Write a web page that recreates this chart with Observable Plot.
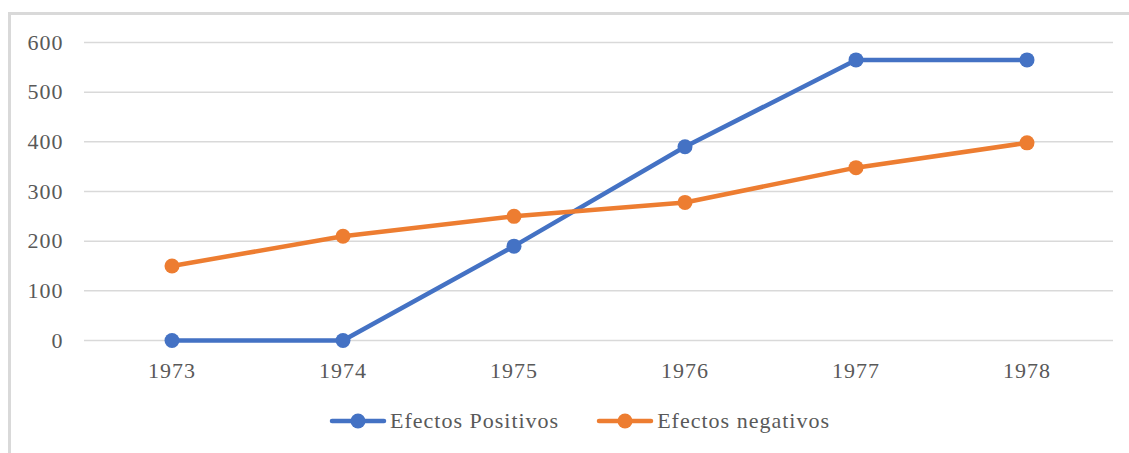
<!DOCTYPE html>
<html>
<head>
<meta charset="utf-8">
<script src="https://cdn.jsdelivr.net/npm/d3@7"></script>
<script src="https://cdn.jsdelivr.net/npm/@observablehq/plot@0.6"></script>
<style>
  html, body { margin: 0; padding: 0; background: #fff; }
  #wrap { position: relative; width: 1129px; height: 453px; overflow: hidden; font-family: "Liberation Serif", "DejaVu Serif"; }
  #frame { position: absolute; left: 8px; top: 12px; width: 1200px; height: 500px; border-top: 3px solid #d9d9d9; border-left: 3px solid #d9d9d9; box-sizing: border-box; pointer-events: none; }
  #chart { position: absolute; left: 0; top: 0; }
  #chart svg text { font-family: "Liberation Serif", "DejaVu Serif" !important; letter-spacing: 1px; }
  #legend { position: absolute; left: 329px; top: 408px; display: flex; gap: 37px; font-size: 22px; color: #595959; letter-spacing: 1px; white-space: nowrap; }
  .item { display: flex; align-items: center; }
  .item svg { display: block; margin-right: 3px; }
</style>
</head>
<body>
<div id="wrap">
  <div id="frame"></div>
  <div id="chart"></div>
  <div id="legend"></div>
</div>
<script>
const years = ["1973", "1974", "1975", "1976", "1977", "1978"];
const seriesNames = ["Efectos Positivos", "Efectos negativos"];
const positivos = [0, 0, 190, 390, 565, 565];
const negativos = [150, 210, 250, 278, 348, 398];
const colors = ["#4472C4", "#ED7D31"];
const yTicks = [0, 100, 200, 300, 400, 500, 600];

const data = [];
years.forEach((y, i) => data.push({year: y, value: positivos[i], serie: seriesNames[0]}));
years.forEach((y, i) => data.push({year: y, value: negativos[i], serie: seriesNames[1]}));

const chart = Plot.plot({
  width: 1129,
  height: 395,
  marginLeft: 84,
  marginRight: 16,
  marginTop: 42,
  marginBottom: 55,
  style: {background: "transparent", fontSize: "22px", color: "#595959", overflow: "visible"},
  x: {type: "band", domain: years, padding: 0, label: null, tickSize: 0, tickPadding: 22},
  y: {domain: [0, 600], ticks: yTicks, label: null, tickSize: 0, tickPadding: 21},
  color: {domain: seriesNames, range: colors},
  marks: [
    Plot.gridY(yTicks, {stroke: "#d9d9d9", strokeOpacity: 1, strokeWidth: 1.5}),
    Plot.axisY({ticks: yTicks, tickSize: 0, tickPadding: 21, fontSize: 22, fill: "#595959", label: null}),
    Plot.axisX({tickSize: 0, tickPadding: 22, fontSize: 22, fill: "#595959", label: null}),
    Plot.line(data, {x: "year", y: "value", z: "serie", stroke: "serie", strokeWidth: 4.5, strokeLinejoin: "round", strokeLinecap: "round"}),
    Plot.dot(data, {x: "year", y: "value", fill: "serie", r: 7.5, stroke: null})
  ]
});
document.getElementById("chart").appendChild(chart);

const legend = document.getElementById("legend");
seriesNames.forEach((name, i) => {
  const item = document.createElement("div");
  item.className = "item";
  item.innerHTML = `<svg width="58" height="20"><line x1="3" x2="55" y1="10" y2="10" stroke="${colors[i]}" stroke-width="4.5" stroke-linecap="round"/><circle cx="29" cy="10" r="7.5" fill="${colors[i]}"/></svg><span>${name}</span>`;
  legend.appendChild(item);
});
</script>
</body>
</html>
